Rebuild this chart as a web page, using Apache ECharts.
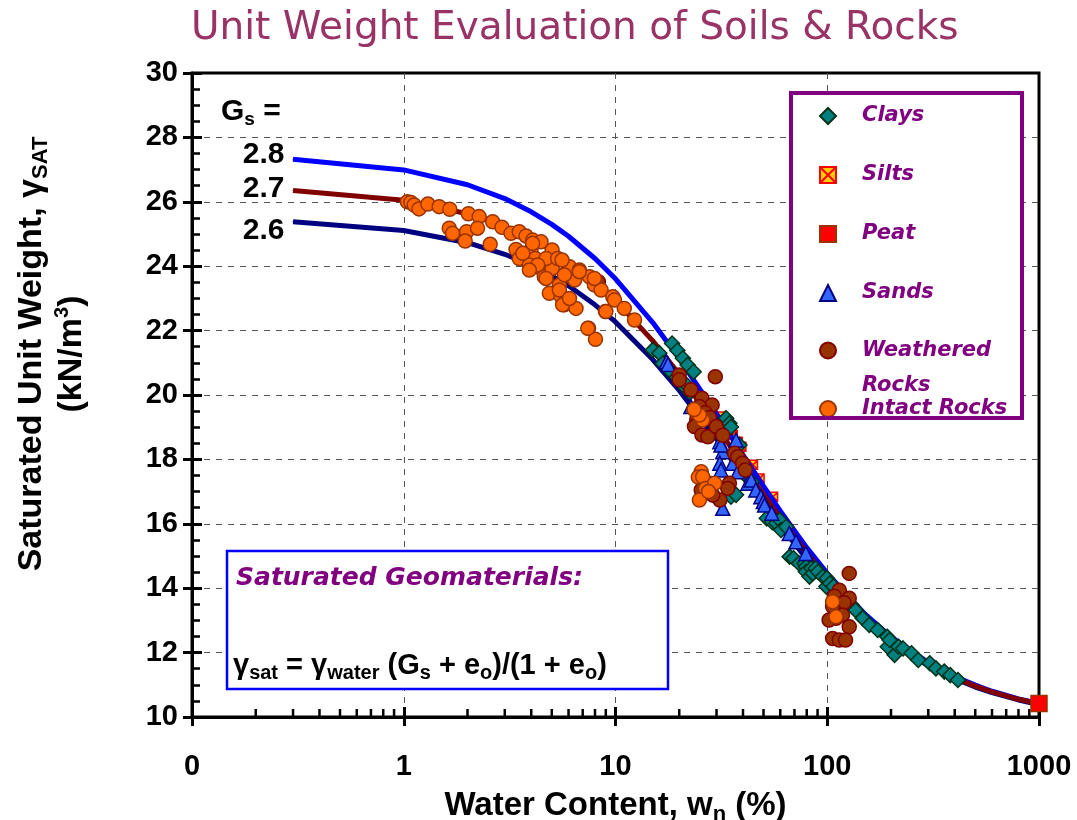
<!DOCTYPE html>
<html>
<head>
<meta charset="utf-8">
<title>Unit Weight Evaluation of Soils &amp; Rocks</title>
<script src="https://cdn.jsdelivr.net/npm/echarts@6/dist/echarts.min.js"></script>
<style>
html,body{margin:0;padding:0;background:#ffffff;}
#chart{width:1077px;height:820px;}
</style>
</head>
<body>
<div id="chart"></div>
<script>
// ---------------- data ----------------
const xTickValues = [0.1, 1, 10, 100, 1000];
const xTickLabels = ['0', '1', '10', '100', '1000'];
const xMinorTicks = [0.2,0.3,0.4,0.5,0.6,0.7,0.8,0.9, 2,3,4,5,6,7,8,9, 20,30,40,50,60,70,80,90, 200,300,400,500,600,700,800,900];
const yMin = 10, yMax = 30, yStep = 2;

// Gs curves (water content %, saturated unit weight kN/m3)
const curveW = [0.3, 1, 2, 3, 4, 5, 6, 8, 10, 15, 20, 30, 40, 50, 60, 80, 100, 150, 200, 300, 400, 500, 600, 800, 1000];
const gs28 = [27.32, 26.99, 26.53, 26.10, 25.69, 25.30, 24.93, 24.24, 23.61, 22.25, 21.13, 19.41, 18.14, 17.17, 16.40, 15.26, 14.46, 13.21, 12.49, 11.69, 11.26, 10.99, 10.80, 10.56, 10.42];
const gs27 = [26.35, 26.05, 25.63, 25.24, 24.86, 24.50, 24.16, 23.52, 22.94, 21.68, 20.64, 19.02, 17.83, 16.91, 16.18, 15.09, 14.32, 13.11, 12.42, 11.64, 11.22, 10.96, 10.78, 10.55, 10.41];
const gs26 = [25.38, 25.11, 24.73, 24.37, 24.03, 23.70, 23.39, 22.80, 22.27, 21.10, 20.14, 18.63, 17.50, 16.63, 15.94, 14.91, 14.17, 13.01, 12.34, 11.59, 11.19, 10.93, 10.76, 10.53, 10.39];

const clays = [[15.0,21.40],[16.1,21.30],[16.7,20.98],[17.9,20.78],[18.5,21.60],[19.6,21.38],[19.5,20.55],[20.8,21.14],[20.8,20.31],[21.3,20.36],[21.9,20.93],[22.5,20.08],[23.4,20.72],
  [33.3,19.28],[34.5,19.12],[35.1,19.01],[38.5,18.45],[35.5,16.95],[35.1,16.84],[37.1,16.90],[40.5,17.55],[44.0,17.30],
  [51.8,16.17],[55.0,16.05],[57.5,16.02],[59.6,16.12],[60.5,15.81],[64.0,15.91],[66.4,14.98],[69.3,14.93],[73.6,14.77],[78.2,14.77],[79.3,14.67],[79.3,14.51],[82.5,14.36],[84.1,14.62],[85.4,14.46],[88.2,14.62],[90.4,14.51],[95.3,14.36],[99.0,14.05],[99.6,14.31],
  [103,14.15],[107,14.05],[112,13.89],[122,13.63],[130,13.48],[136,13.32],[147,13.07],[158,12.86],[173,12.70],[192,12.49],[193,12.18],[197,12.39],[208,11.93],[217,12.18],[228,12.13],[250,11.98],[269,11.77],[305,11.67],[326,11.51],[357,11.41],[381,11.30],[414,11.15]];
const silts = [[31.5,19.33],[32.8,19.17],[34.5,18.91],[35.8,18.76],[37.8,18.55],[39.3,18.39],[44.6,17.83],[47.9,17.41],[55.5,16.84]];
const peat = [[1000,10.42]];
const sands = [[17.4,21.03],[17.7,20.95],[22.7,19.64],[31.1,18.55],[32.1,18.24],[31.5,18.45],[31.1,17.88],[31.5,17.67],[32.1,16.48],[35.8,17.88],[37.1,18.60],[37.8,17.62],[42.2,17.26],[43.8,17.36],[46.0,17.05],[48.6,16.84],[49.9,16.69],[50.6,16.58],[54.7,16.33],[66.2,15.70],[71.2,15.44],[79.3,15.08]];
const weatheredRocks = [[8.3,23.52],[20.0,20.62],[20.0,20.47],[22.7,20.16],[25.6,19.90],[28.6,19.69],[24.9,19.64],[26.5,19.45],[27.8,19.30],[24.2,19.25],[23.6,19.02],[25.6,18.76],[27.3,18.70],[29.9,19.02],[32.1,18.75],[29.6,20.57],[36.5,18.19],[37.8,18.08],[39.8,17.88],[41.0,17.67],[34.5,17.26],[33.9,17.10],[31.1,16.74],[28.8,16.89],[27.7,17.26],[25.4,17.05],
  [127,14.46],[114,13.94],[127,13.69],[108,13.75],[120,13.55],[106,13.43],[118,13.17],[110,13.07],[102,13.01],[127,12.80],[106,12.44],[114,12.39],[122,12.39]];
const intactRocks = [[1.04,26.0],[1.08,25.98],[1.12,25.9],[1.18,25.78],[1.30,25.93],[1.47,25.85],[1.65,25.77],[2.02,25.63],[2.27,25.54],[2.63,25.38],[2.91,25.21],[3.21,25.02],[3.51,25.07],[3.78,24.94],[4.06,24.81],[4.45,24.76],
  [1.64,25.18],[1.70,25.02],[1.98,25.07],[1.95,24.78],[2.23,25.18],[2.56,24.68],[3.39,24.52],[3.51,24.24],[3.78,24.40],[3.99,24.50],[4.06,24.71],[4.18,24.24],[3.92,24.04],[4.34,23.97],[4.61,23.67],[5.02,24.50],[5.02,23.93],[4.87,23.16],[5.53,23.07],[5.73,22.80],[6.51,22.69],[5.43,23.42],[5.84,23.78],[6.06,23.98],[6.41,23.57],[6.75,23.88],[7.53,23.67],[7.95,23.42],[8.55,23.26],[9.71,23.05],[9.89,22.95],[11.0,22.69],[12.3,22.33],[8.97,22.59],[7.46,22.07],[8.04,21.73],
  [4.70,24.24],[5.33,24.24],[5.59,24.19],[4.70,23.62],[5.63,22.80],[5.43,23.26],[6.06,23.0],[7.40,22.07],[9.0,22.59],[5.74,23.73],[6.75,23.83],[7.95,23.62],[4.29,24.04],[3.65,24.40],[3.92,23.88],
  [25.8,19.22],[24.9,19.38],[23.5,19.55],[25.4,17.62],[24.6,17.45],[25.8,17.46],[26.6,17.10],[24.9,16.74],[29.4,17.26],[27.5,17.0],
  [106,13.58],[110,13.11]];

// ---------------- styling ----------------
const FONT = '"Liberation Sans", Arial, sans-serif';
const DEJ = '"DejaVu Sans", sans-serif';
const PURPLE = '#800080';

function curveSeries(name, ys, color, labelText, labelOffset) {
  return {
    type: 'line', name: name, symbol: 'none', silent: true, z: 2,
    data: curveW.map(function (w, i) {
      if (i === 0) {
        return {
          value: [w, ys[i]], symbol: 'circle', symbolSize: 1,
          label: { show: true, position: 'left', distance: 8, offset: labelOffset, formatter: labelText,
            fontFamily: FONT, fontWeight: 'bold', fontSize: 30, color: '#000' }
        };
      }
      return [w, ys[i]];
    }),
    lineStyle: { color: color, width: 5 },
    itemStyle: { color: color },
    emphasis: { disabled: true }
  };
}
function scatterSeries(name, data, symbol, size, fill, border, z) {
  return {
    type: 'scatter', name: name, data: data, symbol: symbol, symbolSize: size, symbolKeepAspect: true,
    itemStyle: { color: fill, borderColor: border, borderWidth: 1.5, opacity: 1 },
    z: z, emphasis: { disabled: true }
  };
}

const legendText = { fontFamily: DEJ, fontWeight: 'bold', fontStyle: 'italic', fontSize: 21, color: PURPLE, lineHeight: 24, padding: [0, 0, 0, 21] };
function legendBox(top, names, extra) {
  return Object.assign({
    orient: 'vertical', left: 819, top: top, itemWidth: 16, itemHeight: 16, padding: 0, itemGap: 35,
    selectedMode: false, data: names, textStyle: Object.assign({}, legendText), z: 6
  }, extra || {});
}

const subTok = function (size, lh) { return { fontFamily: FONT, fontWeight: 'bold', fontSize: size, lineHeight: lh, verticalAlign: 'bottom', color: '#000', fill: '#000' }; };

const option = {
  animation: false,
  backgroundColor: '#ffffff',
  title: {
    text: 'Unit Weight Evaluation of Soils & Rocks', left: 186, top: 4,
    textStyle: { fontFamily: DEJ, fontWeight: 'normal', fontSize: 39, color: '#993366' }
  },
  grid: { left: 192, right: 38, top: 73, bottom: 103, outerBoundsMode: 'none', containLabel: false,
    show: true, borderColor: '#000', borderWidth: 3, backgroundColor: 'transparent' },
  xAxis: [{
    type: 'log', logBase: 10, min: 0.1, max: 1000, gridIndex: 0,
    axisLine: { onZero: false, lineStyle: { color: '#000', width: 3 } },
    axisTick: { inside: true, length: 10, lineStyle: { color: '#000', width: 3 } },
    axisLabel: {
      margin: 35, fontFamily: FONT, fontWeight: 'bold', fontSize: 29, color: '#000',
      formatter: function (v) {
        let best = 0;
        xTickValues.forEach(function (t, i) { if (Math.abs(Math.log10(t) - Math.log10(v)) < Math.abs(Math.log10(xTickValues[best]) - Math.log10(v))) best = i; });
        return xTickLabels[best];
      }
    },
    splitLine: { show: true, showMinLine: false, showMaxLine: false, lineStyle: { type: [6, 6], color: '#555', width: 1 } },
    name: 'Water Content, w{s|n} (%)', nameLocation: 'middle', nameGap: 57,
    nameTextStyle: { fontFamily: FONT, fontWeight: 'bold', fontSize: 33, color: '#000', lineHeight: 40,
      rich: { s: subTok(22, 32) } }
  }, {
    type: 'log', logBase: 10, min: 0.1, max: 1000, gridIndex: 0, position: 'bottom',
    axisLine: { show: false, onZero: false }, axisLabel: { show: false }, splitLine: { show: false },
    axisTick: { inside: false, length: 9, lineStyle: { color: '#000', width: 3 } }
  }],
  yAxis: [{
    type: 'value', min: yMin, max: yMax, interval: yStep, gridIndex: 0,
    axisLine: { onZero: false, lineStyle: { color: '#000', width: 3 } },
    axisTick: { inside: true, length: 10, lineStyle: { color: '#000', width: 3 } },
    minorTick: { show: true, splitNumber: 4, length: 8, lineStyle: { color: '#000', width: 2.5 } },
    axisLabel: { margin: 14, fontFamily: FONT, fontWeight: 'bold', fontSize: 29, color: '#000' },
    splitLine: { show: true, showMinLine: false, showMaxLine: false, lineStyle: { type: [6, 6], color: '#555', width: 1 } },
    name: 'Saturated Unit Weight, {g|γ}{s|SAT}\n(kN/m{p|3})', nameLocation: 'middle', nameGap: 100, nameRotate: 90,
    nameTextStyle: { fontFamily: FONT, fontWeight: 'bold', fontSize: 34, color: '#000', lineHeight: 40, padding: [0, 0, 0, 82],
      rich: {
        g: { fontFamily: FONT, fontWeight: 'bold', fontSize: 34, lineHeight: 40, color: '#000' },
        s: subTok(22, 28),
        p: { fontFamily: FONT, fontWeight: 'bold', fontSize: 20, lineHeight: 20, verticalAlign: 'top', color: '#000' }
      } }
  }, {
    type: 'value', min: yMin, max: yMax, interval: yStep, gridIndex: 0, position: 'left',
    axisLine: { show: false, onZero: false }, axisLabel: { show: false }, splitLine: { show: false },
    axisTick: { inside: false, length: 9, lineStyle: { color: '#000', width: 3 } }
  }],
  legend: [
    legendBox(104, ['Clays', 'Silts', 'Peat', 'Sands']),
    legendBox(298, ['Weathered Rocks'], { formatter: function () { return '\nWeathered\nRocks'; },
      textStyle: Object.assign({}, legendText, { lineHeight: 35 }) }),
    legendBox(397, ['Intact Rocks'])
  ],
  graphic: [
    { type: 'rect', z: 3, silent: true, shape: { x: 791, y: 93, width: 231, height: 325 }, style: { fill: '#fff' } },
    { type: 'rect', z: 9, silent: true, shape: { x: 850, y: 421, width: 172, height: 12 }, style: { fill: '#fff' } },
    { type: 'rect', z: 10, silent: true, shape: { x: 791, y: 93, width: 231, height: 325 }, style: { fill: null, stroke: PURPLE, lineWidth: 4 } },
    { type: 'rect', z: 3, silent: true, shape: { x: 227, y: 551, width: 441, height: 138 }, style: { fill: '#fff', stroke: '#0000FF', lineWidth: 2.5 } },
    { type: 'text', z: 4, silent: true, x: 236, y: 578,
      style: { text: 'Saturated Geomaterials:', fontFamily: DEJ, fontWeight: 'bold', fontStyle: 'italic', fontSize: 25, fill: PURPLE, verticalAlign: 'middle' } },
    { type: 'text', z: 4, silent: true, x: 233, y: 666,
      style: { text: 'γ{s|sat} = γ{s|water} (G{s|s} + e{s|o})/(1 + e{s|o})', fontFamily: FONT, fontWeight: 'bold', fontSize: 29, lineHeight: 34, fill: '#000', verticalAlign: 'middle',
        rich: { s: { fontFamily: FONT, fontWeight: 'bold', fontSize: 20, lineHeight: 24, verticalAlign: 'bottom', fill: '#000' } } } },
    { type: 'text', z: 4, silent: true, x: 221, y: 112,
      style: { text: 'G{s|s} =', fontFamily: FONT, fontWeight: 'bold', fontSize: 30, lineHeight: 34, fill: '#000', verticalAlign: 'middle',
        rich: { s: { fontFamily: FONT, fontWeight: 'bold', fontSize: 19, lineHeight: 20, verticalAlign: 'bottom', fill: '#000' } } } }
  ],
  series: [
    scatterSeries('Silts', silts, 'path://M0,0H10V10H0Z M0,0L10,10 M10,0L0,10', 9, '#FFCC00', '#FF0000', 1),
    curveSeries('Gs 2.6', gs26, '#000080', '2.6', [0, 9]),
    curveSeries('Gs 2.8', gs28, '#0000FF', '2.8', [0, -5]),
    curveSeries('Gs 2.7', gs27, '#800000', '2.7', [0, -2]),
    {
      type: 'custom', name: 'xMinorTicks', silent: true, clip: false, z: 3,
      xAxisIndex: 0, yAxisIndex: 0,
      data: xMinorTicks.map(function (v) { return [v]; }),
      renderItem: function (params, api) {
        const p = api.coord([api.value(0), yMin]);
        return { type: 'line', shape: { x1: p[0], y1: p[1], x2: p[0], y2: p[1] - 8 }, style: { stroke: '#000', lineWidth: 2.5 } };
      }
    },
    scatterSeries('Clays', clays, 'diamond', 15, '#008080', '#003319', 4),
    scatterSeries('Sands', sands, 'triangle', 14, '#3366FF', '#000080', 4),
    scatterSeries('Weathered Rocks', weatheredRocks, 'circle', 14, '#993300', '#800000', 4),
    scatterSeries('Intact Rocks', intactRocks, 'circle', 14, '#FF6600', '#993300', 4),
    scatterSeries('Peat', peat, 'rect', 16, '#FF0000', '#993300', 5)
  ]
};

const chart = echarts.init(document.getElementById('chart'));
chart.setOption(option);
</script>
</body>
</html>
